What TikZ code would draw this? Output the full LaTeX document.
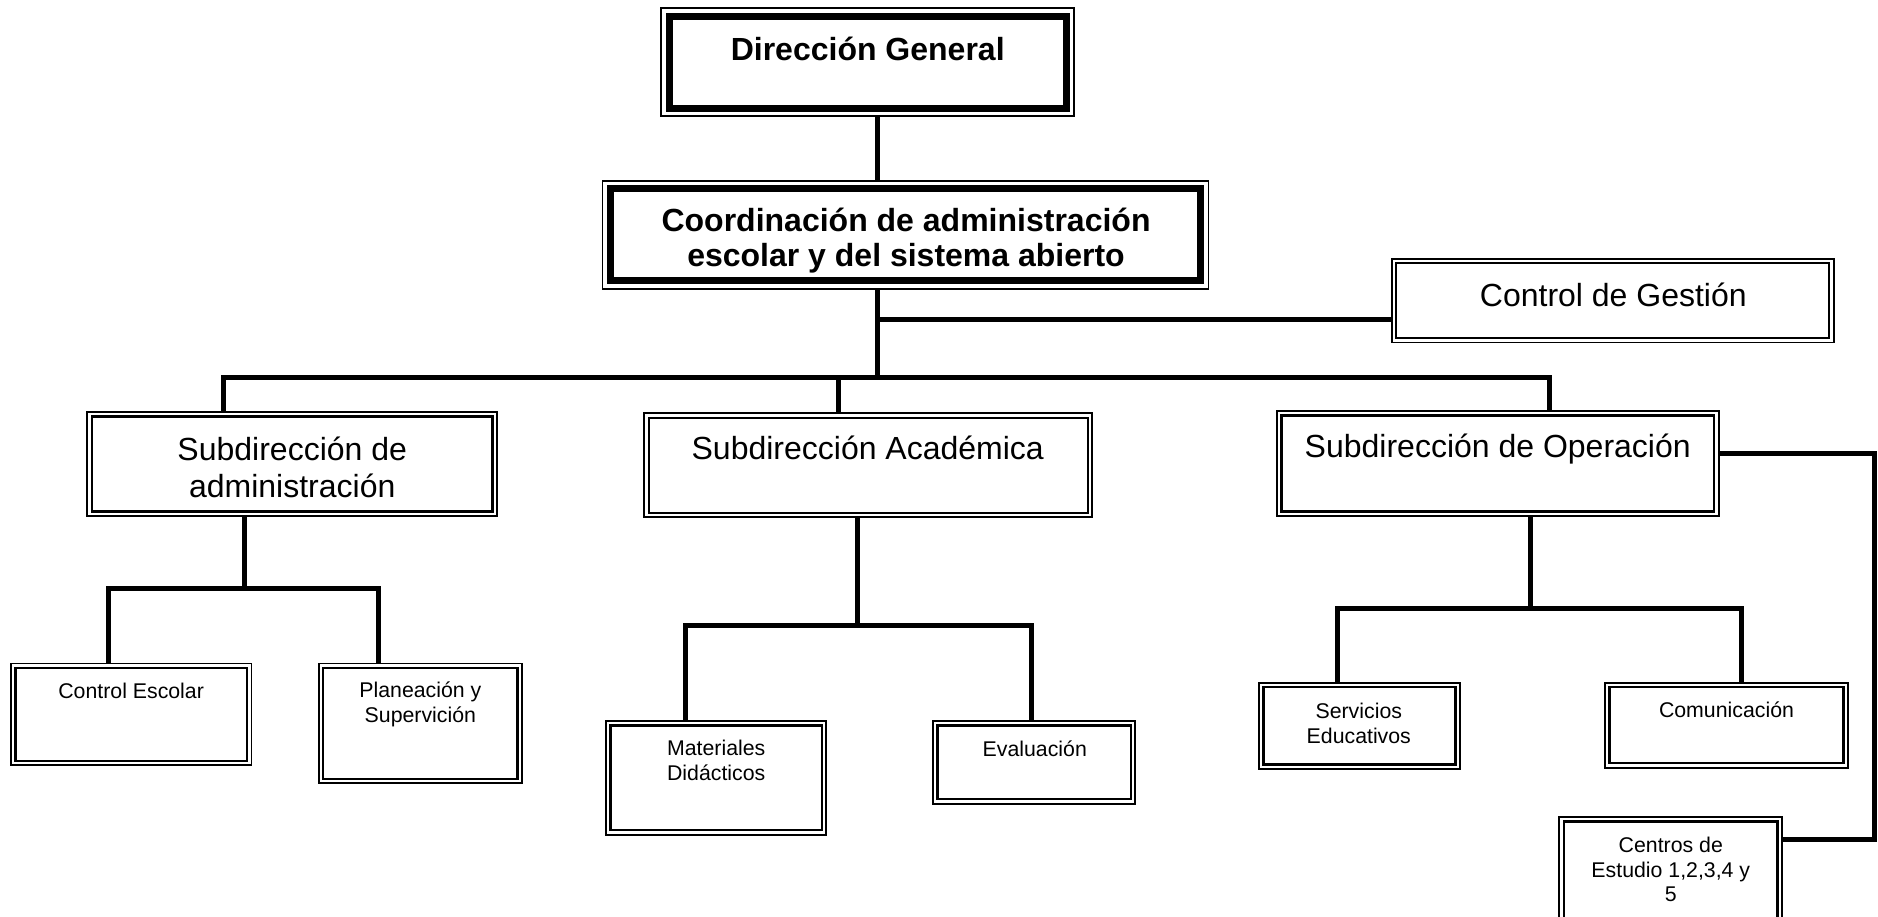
\documentclass[tikz,border=0pt]{standalone}
\usepackage{fontspec}
\setmainfont{Liberation Sans}
\begin{document}
\begin{tikzpicture}[x=1.1977pt,y=-1.1977pt,
  orgbox/.style 2 args={draw, line width=1.9pt, inner sep=0pt, minimum width=#1*1.1977pt, minimum height=#2*1.1977pt},
  big/.style={font=\fontsize{32}{36.8}\selectfont, align=center, inner sep=0pt},
  bigb/.style={font=\bfseries\fontsize{32}{35}\selectfont, align=center, inner sep=0pt},
  small/.style={font=\fontsize{21.3}{24.5}\selectfont, align=center, inner sep=0pt},
  conn/.style={line width=5pt, line join=miter},
  thinin/.style={line width=2.4pt},
  thickin/.style={line width=7pt}
  ]
\useasboundingbox (0,0) rectangle (1568,765);
\clip (0,0) rectangle (1568,765);
% frames
\node[orgbox={345}{90}] (dg) at (724.5,52) {};
\node[orgbox={506}{90}] (co) at (756,196) {};
\node[orgbox={369}{70}] (cg) at (1346.5,251) {};
\node[orgbox={342}{87}] (sa) at (244,387.5) {};
\node[orgbox={374}{87}] (sc) at (725,388.5) {};
\node[orgbox={369}{88}] (so) at (1250.5,387) {};
\node[orgbox={201}{85}] (ce) at (109.5,596.5) {};
\node[orgbox={170}{100}] (ps) at (351,604) {};
\node[orgbox={184}{95}] (md) at (598,649.5) {};
\node[orgbox={169}{69}] (ev) at (863.5,636.5) {};
\node[orgbox={168}{72}] (se) at (1135,606) {};
\node[orgbox={203}{71}] (cm) at (1441.5,605.5) {};
\node[orgbox={186}{98}] (cn) at (1395,731) {};
\foreach \n in {cg,sa,sc,so,ce,ps,md,ev,se,cm,cn}
  \draw[thinin] ([shift={(5.5pt,-5.5pt)}]\n.north west) rectangle ([shift={(-5.5pt,5.5pt)}]\n.south east);
\foreach \n in {dg,co}
  \draw[thickin] ([shift={(9pt,-9pt)}]\n.north west) rectangle ([shift={(-9pt,9pt)}]\n.south east);
% texts
\node[bigb] (tdg) at (724.5,41) {Dirección General};
\node[bigb] (tco) at (756.5,201) {Coordinación de administración\\escolar y del sistema abierto};
\node[big] (tcg) at (1347,246) {Control de Gestión};
\node[big] (tsa) at (244,390) {Subdirección de\\administración};
\node[big] (tsc) at (724.5,374) {Subdirección Académica};
\node[big] (tso) at (1250.5,375) {Subdirección de Operación};
\node[small] (tce) at (109.5,577) {Control Escolar};
\node[small] (tps) at (351,588) {Planeación y\\Supervición};
\node[small] (tmd) at (598,635) {Materiales\\Didácticos};
\node[small] (tev) at (864,625) {Evaluación};
\node[small] (tse) at (1134.5,604) {Servicios\\Educativos};
\node[small] (tcm) at (1441.5,593) {Comunicación};
\node[small] (tcn) at (1395,726) {Centros de\\Estudio 1,2,3,4 y\\5};
% junctions
\coordinate (j0) at (733,267);
\coordinate (ba) at (187,315);
\coordinate (bc) at (700,315);
\coordinate (bo) at (1294,315);
\coordinate (ja) at (204,491);
\coordinate (jal) at (91,491);
\coordinate (jar) at (316,491);
\coordinate (jc) at (716,522);
\coordinate (jcl) at (572,522);
\coordinate (jcr) at (861,522);
\coordinate (jo) at (1278,508);
\coordinate (jol) at (1117,508);
\coordinate (jor) at (1454,508);
\coordinate (rt) at (1565,379);
\coordinate (rb) at (1565,701);
% connectors
\draw[conn] (dg.south -| j0) -- (co.north -| j0);
\draw[conn] (co.south -| j0) -- (j0 |- ba);
\draw[conn] (j0) -- (cg.west |- j0);
\draw[conn] (sa.north -| ba) -- (ba) -- (bo) -- (so.north -| bo);
\draw[conn] (bc) -- (sc.north -| bc);
\draw[conn] (sa.south -| ja) -- (ja);
\draw[conn] (ce.north -| jal) -- (jal) -- (jar) -- (ps.north -| jar);
\draw[conn] (sc.south -| jc) -- (jc);
\draw[conn] (md.north -| jcl) -- (jcl) -- (jcr) -- (ev.north -| jcr);
\draw[conn] (so.south -| jo) -- (jo);
\draw[conn] (se.north -| jol) -- (jol) -- (jor) -- (cm.north -| jor);
\draw[conn] (so.east |- rt) -- (rt) -- (rb) -- (cn.east |- rb);
\end{tikzpicture}
\end{document}
